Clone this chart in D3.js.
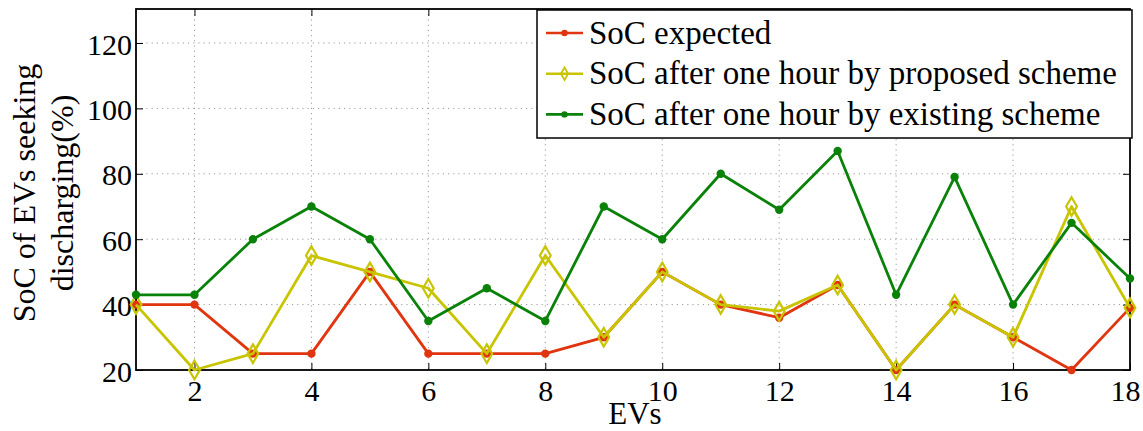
<!DOCTYPE html>
<html>
<head>
<meta charset="utf-8">
<script src="https://cdn.jsdelivr.net/npm/d3@7"></script>
<style>
  html, body { margin: 0; padding: 0; background: #fff; }
  svg { display: block; }
  svg text { font-family: "Liberation Serif", "Times New Roman", serif; fill: #000; }
</style>
</head>
<body>
<svg id="chart" width="1143" height="431"></svg>
<script>
// EV index on the x axis
const evs = [1, 2, 3, 4, 5, 6, 7, 8, 9, 10, 11, 12, 13, 14, 15, 16, 17, 18];
// State of charge (%) per EV
const socExpected = [40, 40, 25, 25, 50, 25, 25, 25, 30, 50, 40, 36, 46, 20, 40, 30, 20, 39];
const socProposed = [40, 20, 25, 55, 50, 45, 25, 55, 30, 50, 40, 38, 46, 20, 40, 30, 70, 39];
const socExisting = [43, 43, 60, 70, 60, 35, 45, 35, 70, 60, 80, 69, 87, 43, 79, 40, 65, 48];
const xTicks = [2, 4, 6, 8, 10, 12, 14, 16, 18];
const yTicks = [20, 40, 60, 80, 100, 120];
const seriesNames = ["SoC expected", "SoC after one hour by proposed scheme", "SoC after one hour by existing scheme"];

const colors = ["#e0350f", "#c9c400", "#0a820a"];
const series = [
  { name: seriesNames[0], values: socExpected, color: colors[0], marker: "circle" },
  { name: seriesNames[1], values: socProposed, color: colors[1], marker: "diamond" },
  { name: seriesNames[2], values: socExisting, color: colors[2], marker: "circle" }
];

const svg = d3.select("#chart");
const plot = { left: 136, right: 1130, top: 9, bottom: 370 };

const x = d3.scaleLinear().domain([1, 18]).range([plot.left, plot.right]);
const y = d3.scaleLinear().domain([20, 130.4]).range([plot.bottom, plot.top]);

// dotted grid
const grid = svg.append("g");
grid.selectAll("line.gx").data(xTicks.filter(d => d < 18)).enter().append("line")
  .attr("x1", d => x(d)).attr("x2", d => x(d))
  .attr("y1", plot.top).attr("y2", plot.bottom)
  .attr("stroke", "#9a9a9a").attr("stroke-width", 1).attr("stroke-dasharray", "1.2,4");
grid.selectAll("line.gy").data(yTicks.filter(d => d > 20)).enter().append("line")
  .attr("x1", plot.left).attr("x2", plot.right)
  .attr("y1", d => y(d)).attr("y2", d => y(d))
  .attr("stroke", "#9a9a9a").attr("stroke-width", 1).attr("stroke-dasharray", "1.2,4");

// axes with inward ticks
function styleAxis(g) {
  g.attr("font-family", null).attr("font-size", null);
  g.select(".domain").remove();
  g.selectAll("line").attr("stroke", "#000");
}

const xAxis = svg.append("g").attr("transform", `translate(0,${plot.bottom})`)
  .call(d3.axisBottom(x).tickValues(xTicks).tickSizeInner(-7).tickSizeOuter(0));
styleAxis(xAxis);
xAxis.selectAll("text").attr("font-size", "30px").attr("y", 31).attr("dy", null)
  .attr("x", d => (d === 18 ? -5 : 0));

const yAxis = svg.append("g").attr("transform", `translate(${plot.left},0)`)
  .call(d3.axisLeft(y).tickValues(yTicks).tickSizeInner(-7).tickSizeOuter(0));
styleAxis(yAxis);
yAxis.selectAll("text").attr("font-size", "30px").attr("x", -4).attr("y", 11).attr("dy", null);

// mirrored ticks on top and right
const topAxis = svg.append("g").attr("transform", `translate(0,${plot.top})`)
  .call(d3.axisTop(x).tickValues(xTicks).tickSizeInner(-7).tickSizeOuter(0).tickFormat(""));
styleAxis(topAxis);
const rightAxis = svg.append("g").attr("transform", `translate(${plot.right},0)`)
  .call(d3.axisRight(y).tickValues(yTicks).tickSizeInner(-7).tickSizeOuter(0).tickFormat(""));
styleAxis(rightAxis);

// frame
svg.append("rect")
  .attr("x", plot.left).attr("y", plot.top)
  .attr("width", plot.right - plot.left).attr("height", plot.bottom - plot.top)
  .attr("fill", "none").attr("stroke", "#000").attr("stroke-width", 1.8);

// series
const line = d3.line().x((d, i) => x(evs[i])).y(d => y(d));
const diamond = d3.symbol().type(d3.symbolDiamond).size(100);

function drawMarker(g, type, color, cx, cy) {
  if (type === "circle") {
    g.append("circle").attr("cx", cx).attr("cy", cy).attr("r", 4.2).attr("fill", color);
  } else {
    g.append("path").attr("d", diamond).attr("transform", `translate(${cx},${cy})`)
      .attr("fill", "none").attr("stroke", color).attr("stroke-width", 2.2);
  }
}

const seriesG = svg.append("g");
series.forEach(s => {
  const g = seriesG.append("g");
  g.append("path").datum(s.values).attr("d", line)
    .attr("fill", "none").attr("stroke", s.color).attr("stroke-width", 2.8)
    .attr("stroke-linejoin", "round");
  s.values.forEach((v, i) => drawMarker(g, s.marker, s.color, x(evs[i]), y(v)));
});

// axis titles
svg.append("text").attr("x", 635).attr("y", 424)
  .attr("text-anchor", "middle").attr("font-size", "31px").text("EVs");
const yTitle = svg.append("text")
  .attr("transform", "translate(0,193) rotate(-90)")
  .attr("text-anchor", "middle").attr("font-size", "32px");
yTitle.append("tspan").attr("x", 0).attr("y", 35).text("SoC of EVs seeking");
yTitle.append("tspan").attr("x", 0).attr("y", 73).text("discharging(%)");

// legend
const leg = svg.append("g");
const lx = 537, ly = 10, lw = 595, lh = 128;
leg.append("rect").attr("x", lx).attr("y", ly).attr("width", lw).attr("height", lh)
  .attr("fill", "#fff").attr("stroke", "#000").attr("stroke-width", 1.5);
series.forEach((s, i) => {
  const cy = 33 + i * 40.7;
  leg.append("line").attr("x1", 546).attr("x2", 583).attr("y1", cy).attr("y2", cy)
    .attr("stroke", s.color).attr("stroke-width", 2.6);
  if (s.marker === "circle") {
    leg.append("circle").attr("cx", 564.5).attr("cy", cy).attr("r", 3.2).attr("fill", s.color);
  } else {
    leg.append("path").attr("d", d3.symbol().type(d3.symbolDiamond).size(45))
      .attr("transform", `translate(564.5,${cy})`)
      .attr("fill", "none").attr("stroke", s.color).attr("stroke-width", 1.8);
  }
  leg.append("text").attr("x", 589).attr("y", cy + 10.5).attr("font-size", "33px").text(s.name);
});
</script>
</body>
</html>
